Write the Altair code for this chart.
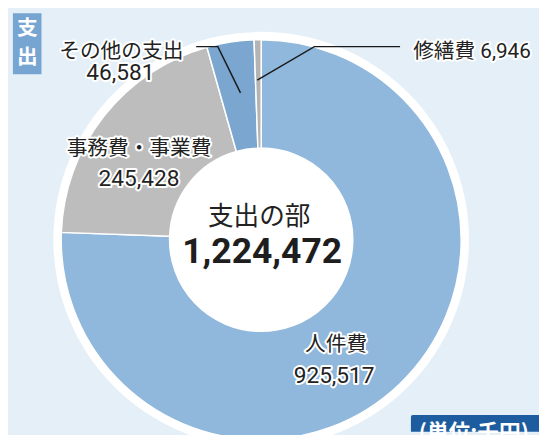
import altair as alt
import pandas as pd

# ---- data ----
categories = ["人件費", "事務費・事業費", "その他の支出", "修繕費"]
values = [925517, 245428, 46581, 6946]
center_title = "支出の部"
section_tag = ["支", "出"]
unit_text = "(単位:千円)"

# ---- styles / layout ----
colors = ["#90b8dc", "#bdbdbd", "#7aa6d0", "#b3b3b3"]
FONT = "Roboto, 'Noto Sans CJK JP', sans-serif"
JP = "'Noto Sans CJK JP', sans-serif"
CX, CY = 257, 232
R_OUT, R_IN, R_RING = 203, 93, 211
W, H = 539, 427

total = sum(values)
df = pd.DataFrame({"cat": categories, "value": values, "ord": list(range(len(values)))})

# label layout: (name line pos, value line pos)
label_pos = {
    "人件費": [(333, 339), (331, 370)],
    "事務費・事業費": [(133, 140), (133, 170)],
    "その他の支出": [(115, 42), (114, 63)],
}
rows = []
for c, v in zip(categories, values):
    if c in label_pos:
        (x1, y1), (x2, y2) = label_pos[c]
        rows.append({"t": c, "x": x1, "y": y1, "fs": 21})
        rows.append({"t": f"{v:,}", "x": x2, "y": y2, "fs": 23})
    else:
        rows.append({"t": f"{c} {v:,}", "x": 471, "y": 42, "fs": 21})
labels = pd.DataFrame(rows)

leader = pd.DataFrame({
    "g": ["a", "a", "a", "b", "b", "b"],
    "s": [0, 1, 2, 0, 1, 2],
    "x": [191, 213, 236, 398, 311, 253],
    "y": [36, 36, 83, 36, 36, 70],
})

one = pd.DataFrame({"a": [0]})

ring = alt.Chart(pd.DataFrame({"v": [total]})).mark_arc(
    outerRadius=R_RING, innerRadius=0, color="white"
).encode(theta=alt.Theta("v:Q"), x=alt.value(CX), y=alt.value(CY))

donut = alt.Chart(df).mark_arc(
    outerRadius=R_OUT, innerRadius=R_IN, stroke="white", strokeWidth=1.5
).encode(
    theta=alt.Theta("value:Q", stack=True),
    order=alt.Order("ord:Q"),
    color=alt.Color("cat:N", scale=alt.Scale(domain=categories, range=colors), legend=None),
    x=alt.value(CX), y=alt.value(CY),
)

lines = alt.Chart(leader).mark_line(color="#1a1a1a", strokeWidth=1.5).encode(
    x=alt.X("x:Q", scale=None), y=alt.Y("y:Q", scale=None),
    detail="g:N", order="s:Q",
)

halo = alt.Chart(labels).mark_text(
    font=FONT, color="white", stroke="white", strokeWidth=4,
    strokeJoin="round", align="center", baseline="middle"
).encode(x=alt.X("x:Q", scale=None), y=alt.Y("y:Q", scale=None), text="t:N",
         size=alt.Size("fs:Q", scale=None))

txt = alt.Chart(labels).mark_text(
    font=FONT, color="#222222", align="center", baseline="middle"
).encode(x=alt.X("x:Q", scale=None), y=alt.Y("y:Q", scale=None), text="t:N",
         size=alt.Size("fs:Q", scale=None))

title1 = alt.Chart(one).mark_text(
    font=JP, fontSize=26, color="#222222", align="center", baseline="middle"
).encode(x=alt.value(255), y=alt.value(209), text=alt.value(center_title))

title2 = alt.Chart(one).mark_text(
    font=FONT, fontSize=36, fontWeight="bold", color="#1e1e1e", align="center", baseline="middle"
).encode(x=alt.value(258), y=alt.value(245), text=alt.value(f"{total:,}"))

tag_box = alt.Chart(one).mark_rect(color="#77a5d2").encode(
    x=alt.value(5), x2=alt.value(34), y=alt.value(2), y2=alt.value(64)
)
tag1 = alt.Chart(one).mark_text(
    font=JP, fontSize=21, fontWeight="bold", color="white", align="center", baseline="middle"
).encode(x=alt.value(19.5), y=alt.value(18), text=alt.value(section_tag[0]))
tag2 = alt.Chart(one).mark_text(
    font=JP, fontSize=21, fontWeight="bold", color="white", align="center", baseline="middle"
).encode(x=alt.value(19.5), y=alt.value(48), text=alt.value(section_tag[1]))

unit_box = alt.Chart(one).mark_rect(color="#1d5c9e", cornerRadiusTopLeft=2).encode(
    x=alt.value(409), x2=alt.value(W), y=alt.value(410), y2=alt.value(H)
)
unit_txt = alt.Chart(one).mark_text(
    font=JP, fontSize=22, fontWeight="bold", color="white", align="left", baseline="top"
).encode(x=alt.value(417), y=alt.value(418), text=alt.value(unit_text))

chart = alt.layer(
    ring, donut, lines, halo, txt, title1, title2, tag_box, tag1, tag2, unit_box, unit_txt
).properties(
    width=W, height=H, padding=0, autosize=alt.AutoSizeParams(type="none"),
    background="#e4eff8",
).configure_view(stroke=None)

chart.save("out.html", embed_options={"renderer": "svg", "actions": False})
